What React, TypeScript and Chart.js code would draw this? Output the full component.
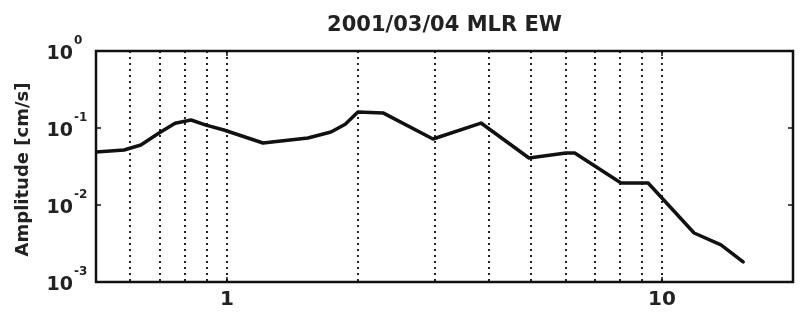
import React, { useEffect, useRef } from "react";
import { Chart, registerables } from "chart.js";

Chart.register(...registerables);

const TITLE = "2001/03/04 MLR EW";
const Y_LABEL = "Amplitude [cm/s]";

// frequency (Hz) and amplitude (cm/s)
const freqs = [0.5, 0.58, 0.634, 0.698, 0.76, 0.827, 0.895, 0.984, 1.21, 1.535, 1.734, 1.87, 2.0, 2.284, 2.976, 3.836, 4.946, 6.013, 6.3, 8.05, 9.29, 11.85, 13.66, 15.36];
const amps = [0.0488, 0.0518, 0.0601, 0.0861, 0.115, 0.127, 0.109, 0.0942, 0.0638, 0.0741, 0.0887, 0.112, 0.161, 0.157, 0.072, 0.116, 0.0408, 0.0473, 0.0473, 0.0193, 0.0193, 0.00433, 0.00303, 0.00182];

// vertical dotted grid positions and labelled x ticks
const xGrid = [0.6, 0.7, 0.8, 0.9, 1, 2, 3, 4, 5, 6, 7, 8, 9, 10];
const xLabelled = [1, 10];
const yTickExps = [0, -1, -2, -3];

const FONT = "'DejaVu Sans', 'Liberation Sans', sans-serif";

const decorPlugin = {
  id: "decor",
  afterDraw(chart: any) {
    const { ctx, chartArea: a } = chart;
    const xs = chart.scales.x;
    const ys = chart.scales.y;
    ctx.save();
    // frame
    ctx.strokeStyle = "#111";
    ctx.lineWidth = 2.5;
    ctx.strokeRect(a.left, a.top, a.right - a.left, a.bottom - a.top);
    // inward ticks
    ctx.lineWidth = 1.5;
    ctx.beginPath();
    yTickExps.forEach((e) => {
      const y = ys.getPixelForValue(Math.pow(10, e));
      ctx.moveTo(a.left, y);
      ctx.lineTo(a.left + 5, y);
      ctx.moveTo(a.right, y);
      ctx.lineTo(a.right - 5, y);
    });
    xLabelled.forEach((v) => {
      const x = xs.getPixelForValue(v);
      ctx.moveTo(x, a.bottom);
      ctx.lineTo(x, a.bottom - 5);
      ctx.moveTo(x, a.top);
      ctx.lineTo(x, a.top + 5);
    });
    ctx.stroke();
    // y tick labels with superscript exponents
    ctx.fillStyle = "#222";
    yTickExps.forEach((e) => {
      const y = ys.getPixelForValue(Math.pow(10, e));
      ctx.font = `bold 19px ${FONT}`;
      ctx.textAlign = "right";
      ctx.textBaseline = "alphabetic";
      ctx.fillText("10", 73, y + 8);
      ctx.font = `bold 12px ${FONT}`;
      ctx.textAlign = "left";
      ctx.fillText(String(e), 74, y - 7);
    });
    // title
    ctx.font = `bold 21px ${FONT}`;
    ctx.textAlign = "center";
    ctx.textBaseline = "alphabetic";
    ctx.fillText(TITLE, (a.left + a.right) / 2, 31);
    // y axis label
    ctx.translate(23, (a.top + a.bottom) / 2 + 3);
    ctx.rotate(-Math.PI / 2);
    ctx.font = `bold 18px ${FONT}`;
    ctx.textAlign = "center";
    ctx.textBaseline = "middle";
    ctx.fillText(Y_LABEL, 0, 0);
    ctx.restore();
  },
};

export default function App() {
  const ref = useRef<HTMLCanvasElement | null>(null);
  useEffect(() => {
    if (!ref.current) return;
    const chart = new Chart(ref.current, {
      type: "line",
      data: {
        datasets: [
          {
            data: freqs.map((f, i) => ({ x: f, y: amps[i] })),
            borderColor: "#111",
            borderWidth: 3.5,
            pointRadius: 0,
            tension: 0,
            fill: false,
            borderJoinStyle: "round",
            borderCapStyle: "round",
          },
        ],
      },
      options: {
        animation: false,
        responsive: false,
        devicePixelRatio: 1,
        layout: { padding: { top: 51, right: 14, left: 0, bottom: 0 } },
        plugins: { legend: { display: false }, title: { display: false }, tooltip: { enabled: false } },
        scales: {
          x: {
            type: "logarithmic",
            min: 0.5,
            max: 20,
            afterBuildTicks: (s: any) => {
              s.ticks = xGrid.map((v) => ({ value: v }));
            },
            afterFit: (s: any) => {
              s.height = 43;
            },
            grid: { display: true, color: "#222", lineWidth: 2, drawTicks: false },
            border: { display: false, dash: [2, 4] },
            ticks: {
              autoSkip: false,
              maxRotation: 0,
              padding: 6,
              color: "#222",
              font: { family: FONT, size: 20, weight: "bold" },
              callback: (v: any) => (xLabelled.includes(Number(v)) ? String(v) : ""),
            },
          },
          y: {
            type: "logarithmic",
            min: 0.001,
            max: 1,
            afterFit: (s: any) => {
              s.width = 96;
            },
            grid: { display: false },
            border: { display: false },
            ticks: { display: false },
          },
        },
      },
      plugins: [decorPlugin],
    } as any);
    return () => chart.destroy();
  }, []);
  return (
    <div style={{ position: "fixed", left: 0, top: 0, width: 807, height: 325, background: "#fff" }}>
      <canvas ref={ref} width={807} height={325} />
    </div>
  );
}
